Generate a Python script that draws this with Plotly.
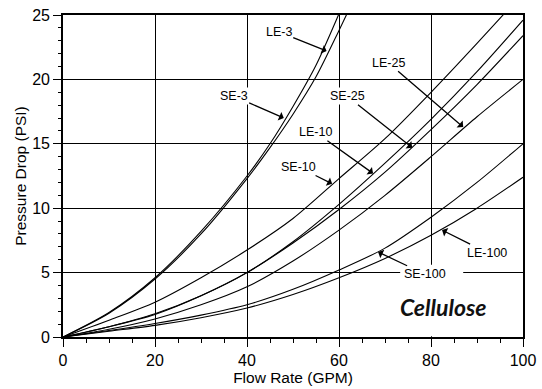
import plotly.graph_objects as go

# Flow rate samples (GPM) and pressure drop (PSI) for each cartridge
flow_3 = [0, 10, 20, 30, 40, 45, 50, 55, 60, 62]
se_3 = [0, 1.9, 4.6, 8.2, 12.5, 15.0, 17.9, 21.1, 25.1, 26.8]
le_3 = [0, 1.85, 4.5, 8.0, 12.3, 14.7, 17.3, 20.2, 23.8, 25.3]

flow = [0, 10, 20, 30, 40, 50, 60, 70, 80, 90, 100]
se_10 = [0, 1.3, 2.7, 4.6, 6.75, 9.2, 12.3, 15.4, 19.0, 22.8, 26.7]
le_10 = [0, 0.8, 1.8, 3.2, 5.0, 7.4, 10.3, 13.5, 16.9, 20.6, 24.6]
se_25 = [0, 0.8, 1.75, 3.2, 5.0, 7.3, 9.9, 12.8, 16.1, 19.6, 23.4]
le_25 = [0, 0.6, 1.4, 2.5, 3.9, 5.9, 8.3, 11.0, 14.0, 17.1, 20.0]
se_100 = [0, 0.5, 1.05, 1.7, 2.5, 3.7, 5.2, 6.9, 9.3, 12.0, 15.0]
le_100 = [0, 0.45, 0.9, 1.5, 2.25, 3.3, 4.6, 6.1, 7.9, 10.0, 12.4]

# Callout labels: text, label position, arrow tip
labels = ["LE-3", "SE-3", "SE-25", "LE-10", "SE-10", "LE-25", "SE-100", "LE-100"]
label_x = [46.9, 37.1, 61.8, 54.9, 51.2, 70.7, 78.7, 92.2]
label_y = [23.7, 18.7, 18.7, 15.9, 13.2, 21.3, 4.87, 6.55]
tip_x = [57.3, 48.0, 75.9, 67.4, 58.5, 87.0, 68.5, 82.4]
tip_y = [22.2, 17.0, 14.7, 12.7, 11.9, 16.3, 6.6, 8.3]

font_family = "Liberation Sans, Arial, sans-serif"

fig = go.Figure()

series = [
    (flow_3, se_3), (flow_3, le_3),
    (flow, se_10), (flow, le_10),
    (flow, se_25), (flow, le_25),
    (flow, se_100), (flow, le_100),
]
for xs, ys in series:
    fig.add_trace(go.Scatter(
        x=xs, y=ys, mode="lines",
        line=dict(color="black", width=1.1, shape="spline", smoothing=0.8),
        showlegend=False, hoverinfo="skip",
    ))

for text, lx, ly, tx, ty in zip(labels, label_x, label_y, tip_x, tip_y):
    fig.add_annotation(
        x=tx, y=ty, ax=lx, ay=ly, axref="x", ayref="y",
        text=text, showarrow=True,
        arrowhead=1, arrowsize=1.2, arrowwidth=1.3, arrowcolor="black",
        font=dict(family=font_family, size=12.5, color="black"),
        bgcolor="white", borderpad=1,
    )

# white panels behind the product name and SE-100 callout
fig.add_shape(type="rect", x0=73.3, x1=87.0, y0=4.2, y1=5.6,
              fillcolor="white", line_width=0, layer="between")
fig.add_shape(type="rect", x0=72.0, x1=95.0, y0=0.05, y1=4.2,
              fillcolor="white", line_width=0, layer="between")

fig.add_annotation(
    x=82.7, y=2.35, text="Cellulose", showarrow=False,
    font=dict(family="Lato, sans-serif", size=23, color="#111",
              weight=700, style="italic"),
)

axis_common = dict(
    showgrid=True, gridcolor="black", gridwidth=1.2,
    showline=True, linecolor="black", linewidth=1.6, mirror=True,
    ticks="outside", ticklen=8, tickwidth=1.3, tickcolor="black",
    tickfont=dict(family=font_family, size=16, color="black"),
    zeroline=False,
)

fig.update_xaxes(
    range=[0, 100], dtick=20, tick0=0,
    minor=dict(dtick=5, ticks="outside", ticklen=4, tickcolor="black", showgrid=False),
    title=dict(text="Flow Rate (GPM)", font=dict(family=font_family, size=15.5, color="black"),
               standoff=4),
    **axis_common,
)
fig.update_yaxes(
    range=[0, 25], dtick=5, tick0=0,
    minor=dict(dtick=1, ticks="outside", ticklen=3, tickcolor="black", showgrid=False),
    title=dict(text="Pressure Drop (PSI)", font=dict(family=font_family, size=15.5, color="black"),
               standoff=2),
    **axis_common,
)

fig.update_layout(
    width=542, height=389,
    margin=dict(l=63, r=19, t=15, b=52, autoexpand=False),
    paper_bgcolor="white", plot_bgcolor="white",
)

fig.write_html("out.html")
